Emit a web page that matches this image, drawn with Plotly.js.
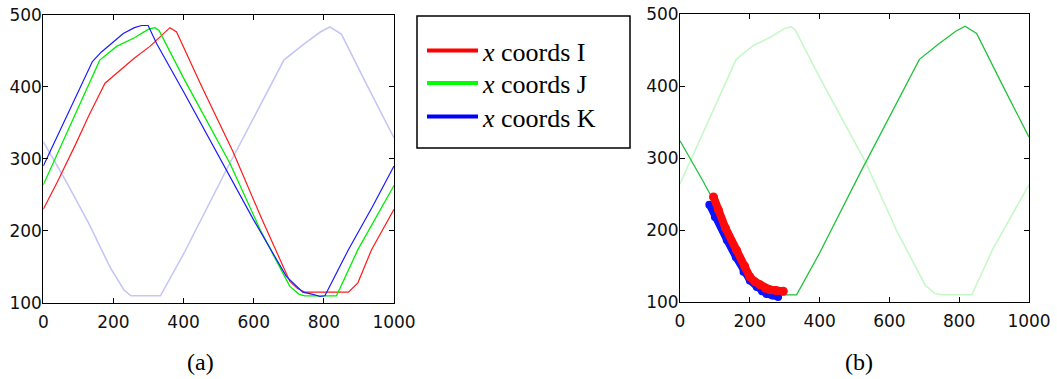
<!DOCTYPE html>
<html>
<head>
<meta charset="utf-8">
<script src="https://cdn.plot.ly/plotly-3.0.1.min.js"></script>
<style>html,body{margin:0;padding:0;background:#fff;}#chart{width:1057px;height:379px;}</style>
</head>
<body>
<div id="chart"></div>
<script>
// ---- data ----
// (a) x coordinates of the three tracked points I, J, K over frames
const frameI = [0, 40, 90, 130, 176, 220, 260, 304, 335, 361, 380, 450, 541, 620, 703, 725, 746, 800, 870, 897, 936, 1000];
const coordsI = [230, 268, 318, 360, 405, 424, 440, 456, 470, 482, 476, 402, 310, 220, 130, 120, 115, 115, 115, 128, 174, 230];

const frameJ = [0, 50, 100, 161, 209, 260, 300, 318, 330, 400, 532, 620, 703, 730, 746, 800, 836, 897, 1000];
const coordsJ = [264, 318, 370, 437, 456, 468, 480, 482, 478, 412, 294, 200, 123, 112, 110, 110, 110, 174, 263];

const frameK = [0, 50, 100, 140, 165, 199, 228, 260, 280, 299, 323, 400, 522, 600, 693, 740, 769, 789, 803, 870, 940, 1000];
const coordsK = [290, 342, 393, 435, 448, 462, 474, 482, 485, 485, 460, 393, 285, 215, 137, 115, 112, 109, 110, 174, 235, 290];

// second (mirrored) reference trajectory
const frameR = [0, 67, 130, 191, 230, 250, 334, 400, 516, 600, 686, 740, 790, 817, 850, 920, 1000];
const coordsR = [324, 267, 210, 149, 118, 110, 110, 168, 279, 358, 437, 458, 476, 483, 473, 405, 329];

// (b) tracked segments
const trackIx = [96, 110, 130, 162, 185, 200, 215, 229, 245, 258, 275, 296];
const trackIy = [246, 228, 203, 172, 150, 135, 128, 124, 119, 117, 116, 115];
const trackKx = [84, 100, 134, 160, 182, 200, 220, 235, 248, 265, 281];
const trackKy = [235, 218, 186, 162, 142, 130, 121, 115, 111, 109, 107];

const legendNames = ['<i>x</i> coords I', '<i>x</i> coords J', '<i>x</i> coords K'];
const legendColors = ['#ff0000', '#00ff00', '#0000ff'];
const xTicks = [0, 200, 400, 600, 800, 1000];
const yTicks = [100, 200, 300, 400, 500];
const captions = ['(a)', '(b)'];

const traces = [
  {x: frameR, y: coordsR, xaxis: 'x', yaxis: 'y', mode: 'lines', line: {color: '#c6c6f6', width: 1.6}, showlegend: false},
  {x: frameI, y: coordsI, xaxis: 'x', yaxis: 'y', mode: 'lines', line: {color: '#ff1a1a', width: 1.2}, showlegend: false},
  {x: frameJ, y: coordsJ, xaxis: 'x', yaxis: 'y', mode: 'lines', line: {color: '#00ee00', width: 1.3}, showlegend: false},
  {x: frameK, y: coordsK, xaxis: 'x', yaxis: 'y', mode: 'lines', line: {color: '#1a1aff', width: 1.2}, showlegend: false},

  {x: frameJ, y: coordsJ, xaxis: 'x2', yaxis: 'y2', mode: 'lines', line: {color: '#c8f8c8', width: 1.6}, showlegend: false},
  {x: frameR, y: coordsR, xaxis: 'x2', yaxis: 'y2', mode: 'lines', line: {color: '#22c23c', width: 1.3}, showlegend: false},
  {x: trackKx, y: trackKy, xaxis: 'x2', yaxis: 'y2', mode: 'lines+markers', line: {color: '#0a14ff', width: 7}, marker: {color: '#0a14ff', size: 8}, showlegend: false},
  {x: trackIx, y: trackIy, xaxis: 'x2', yaxis: 'y2', mode: 'lines+markers', line: {color: '#ff0a0a', width: 8}, marker: {color: '#ff0a0a', size: 9}, showlegend: false}
];
const legendIds = ['legend', 'legend2', 'legend3'];
legendNames.forEach((n, i) => {
  traces.push({x: [null], y: [null], xaxis: 'x', yaxis: 'y', mode: 'lines', name: n, legend: legendIds[i],
               line: {color: legendColors[i], width: 4}, showlegend: true});
});

const tickFont = {family: 'DejaVu Sans, Arial, sans-serif', size: 17, color: '#111'};
function axis(domain, anchor, range, tickvals, standoff) {
  return {domain: domain, anchor: anchor, range: range, tickvals: tickvals, ticktext: tickvals.map(String),
          ticks: 'inside', ticklen: 5, tickwidth: 1, tickcolor: '#000', showline: true, linecolor: '#000', linewidth: 1,
          mirror: 'allticks', showgrid: false, zeroline: false, tickfont: tickFont, fixedrange: true,
          ticklabelstandoff: standoff};
}
const legendFont = {family: 'Liberation Serif, Times New Roman, serif', size: 26, color: '#000'};
const legendCentres = [50.7, 83.2, 116.7];
function legendBox(i) {
  return {x: 422 / 1057, y: 1 - legendCentres[i] / 379, xanchor: 'left', yanchor: 'middle', bgcolor: 'rgba(0,0,0,0)',
          borderwidth: 0, font: legendFont, itemwidth: 51};
}

const layout = {
  width: 1057, height: 379,
  margin: {l: 0, r: 0, t: 0, b: 0},
  paper_bgcolor: '#fff', plot_bgcolor: '#fff',
  showlegend: true,
  xaxis: axis([43.3 / 1057, 394 / 1057], 'y', [0, 1000], xTicks, 4),
  yaxis: axis([1 - 303 / 379, 1 - 14.7 / 379], 'x', [100, 500], yTicks, -3),
  xaxis2: axis([680 / 1057, 1029 / 1057], 'y2', [0, 1000], xTicks, 4),
  yaxis2: axis([1 - 302 / 379, 1 - 14 / 379], 'x2', [100, 500], yTicks, -3),
  legend: legendBox(0),
  legend2: legendBox(1),
  legend3: legendBox(2),
  shapes: [{type: 'rect', xref: 'paper', yref: 'paper', x0: 417 / 1057, x1: 630 / 1057, y0: 1 - 148 / 379, y1: 1 - 16 / 379,
            line: {color: '#000', width: 1.5}, fillcolor: 'rgba(0,0,0,0)'}],
  annotations: [
    {text: captions[0], xref: 'paper', yref: 'paper', x: 200 / 1057, y: 1 - 362 / 379, xanchor: 'center', yanchor: 'middle', showarrow: false,
     font: {family: 'Liberation Serif, Times New Roman, serif', size: 24, color: '#000'}},
    {text: captions[1], xref: 'paper', yref: 'paper', x: 858.6 / 1057, y: 1 - 362 / 379, xanchor: 'center', yanchor: 'middle', showarrow: false,
     font: {family: 'Liberation Serif, Times New Roman, serif', size: 24, color: '#000'}}
  ]
};

Plotly.newPlot('chart', traces, layout, {displayModeBar: false, staticPlot: true});
</script>
</body>
</html>
